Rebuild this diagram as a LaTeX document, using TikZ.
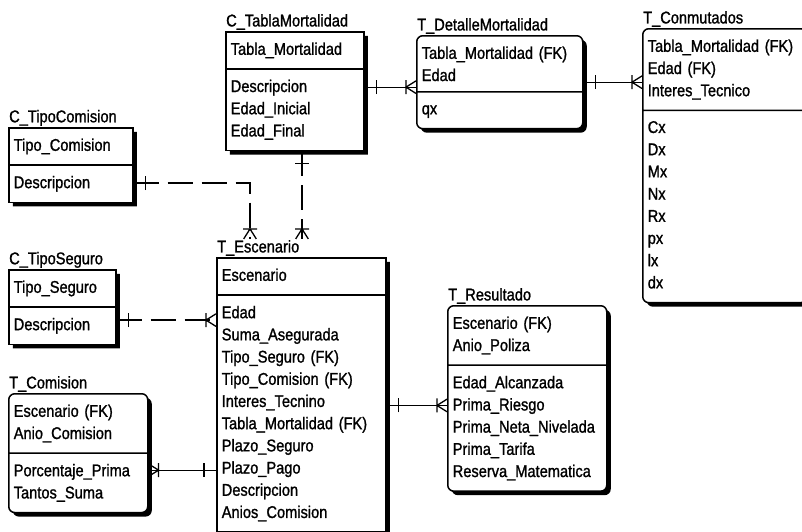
\documentclass[tikz,border=0pt]{standalone}
\usepackage{fontspec}
\setmainfont{Liberation Sans}[FakeStretch=0.86, FakeBold=1.2]
\usetikzlibrary{arrows.meta,shapes.multipart,shadows}

% relation ends: single bar (one) and crow's foot with bar (one or many)
\pgfdeclarearrow{
  name = One,
  parameters = {\the\pgfarrowlength,\the\pgfarrowwidth},
  setup code = {
    \pgfarrowssettipend{0pt}
    \pgfarrowssetlineend{0pt}
    \pgfarrowssetbackend{-\pgfarrowlength}
    \pgfarrowsupperhullpoint{0pt}{0pt}
    \pgfarrowsupperhullpoint{-\pgfarrowlength}{.5\pgfarrowwidth}
    \pgfarrowssavethe\pgfarrowlength
    \pgfarrowssavethe\pgfarrowwidth
  },
  drawing code = {
    \pgfpathmoveto{\pgfpoint{-\pgfarrowlength}{.5\pgfarrowwidth}}
    \pgfpathlineto{\pgfpoint{-\pgfarrowlength}{-.5\pgfarrowwidth}}
    \pgfusepathqstroke
  },
  defaults = {length = 12pt, width = 14pt}
}
\pgfdeclarearrow{
  name = Many,
  parameters = {\the\pgfarrowlength,\the\pgfarrowwidth},
  setup code = {
    \pgfarrowssettipend{0pt}
    \pgfarrowssetlineend{0pt}
    \pgfarrowssetbackend{-\pgfarrowlength}
    \pgfarrowsupperhullpoint{0pt}{.5\pgfarrowwidth}
    \pgfarrowsupperhullpoint{-\pgfarrowlength}{.5\pgfarrowwidth}
    \pgfarrowssavethe\pgfarrowlength
    \pgfarrowssavethe\pgfarrowwidth
  },
  drawing code = {
    \pgfpathmoveto{\pgfpoint{0pt}{.45\pgfarrowwidth}}
    \pgfpathlineto{\pgfpoint{-\pgfarrowlength}{0pt}}
    \pgfpathlineto{\pgfpoint{0pt}{-.45\pgfarrowwidth}}
    \pgfpathmoveto{\pgfpoint{-\pgfarrowlength}{.5\pgfarrowwidth}}
    \pgfpathlineto{\pgfpoint{-\pgfarrowlength}{-.5\pgfarrowwidth}}
    \pgfusepathqstroke
  },
  defaults = {length = 10pt, width = 14pt}
}

\tikzset{
  ent/.style={rectangle split, rectangle split parts=2, draw, line width=1.5pt,
    fill=white, align=left, inner xsep=5pt, inner ysep=10pt, anchor=north west,
    general shadow={fill=black, shadow xshift=4pt, shadow yshift=-4pt}},
  dep/.style={ent, rounded corners=6pt},
  entname/.style={anchor=south west, inner sep=1pt},
  rel/.style={line width=1.3pt},
  nonid/.style={rel, dash pattern=on 25pt off 9pt},
}

\begin{document}
\begin{tikzpicture}[x=1pt, y=-1pt, font=\fontsize{17}{22.2}\selectfont]
\useasboundingbox (0,0) rectangle (802,531);

% catalogues
\node[ent, text width=128pt] (cTabla) at (225,31) {Tabla\_Mortalidad
  \nodepart{two} Descripcion\\ Edad\_Inicial\\ Edad\_Final};
\node[entname] (cTablaT) at (cTabla.north west) {C\_TablaMortalidad};

\node[ent, text width=114pt] (cTipoCom) at (8,127) {Tipo\_Comision
  \nodepart{two} Descripcion};
\node[entname] (cTipoComT) at (cTipoCom.north west) {C\_TipoComision};

\node[ent, text width=97pt] (cTipoSeg) at (8,269) {Tipo\_Seguro
  \nodepart{two} Descripcion};
\node[entname] (cTipoSegT) at (cTipoSeg.north west) {C\_TipoSeguro};

% tables
\node[dep, text width=156pt] (tDetalle) at (416,35) {Tabla\_Mortalidad (FK)\\ Edad
  \nodepart{two} qx\vphantom{Ap}};
\node[entname] (tDetalleT) at (tDetalle.north west) {T\_DetalleMortalidad};

\node[dep, text width=154pt] (tConm) at (642,28) {Tabla\_Mortalidad (FK)\\ Edad (FK)\\ Interes\_Tecnico
  \nodepart{two} Cx\\ Dx\\ Mx\\ Nx\\ Rx\\ px\\ lx\\ dx\vphantom{p}};
\node[entname] (tConmT) at (tConm.north west) {T\_Conmutados};

\node[ent, text width=159pt] (tEsc) at (216,257) {Escenario\vphantom{p}
  \nodepart{two} Edad\\ Suma\_Asegurada\\ Tipo\_Seguro (FK)\\ Tipo\_Comision (FK)\\
  Interes\_Tecnino\\ Tabla\_Mortalidad (FK)\\ Plazo\_Seguro\\ Plazo\_Pago\\
  Descripcion\\ Anios\_Comision};
\node[entname] (tEscT) at (tEsc.north west) {T\_Escenario};

\node[dep, text width=149pt] (tRes) at (447,305) {Escenario (FK)\\ Anio\_Poliza
  \nodepart{two} Edad\_Alcanzada\\ Prima\_Riesgo\\ Prima\_Neta\_Nivelada\\
  Prima\_Tarifa\\ Reserva\_Matematica};
\node[entname] (tResT) at (tRes.north west) {T\_Resultado};

\node[dep, text width=129pt] (tCom) at (8,393) {Escenario (FK)\\ Anio\_Comision
  \nodepart{two} Porcentaje\_Prima\\ Tantos\_Suma};
\node[entname] (tComT) at (tCom.north west) {T\_Comision};

% relations
\coordinate (comEnd) at ([xshift=34pt]tEscT.north west);
\coordinate (tabEnd) at ([xshift=86pt]tEscT.north west);

\draw[rel, {One}-{Many}] ([yshift=4pt]cTabla.east) -- ([yshift=4pt]cTabla.east -| tDetalle.west);
\draw[rel, {One}-{Many}] (tDetalle.east) -- (tDetalle.east -| tConm.west);
\draw[nonid, {One}-{Many}] (cTabla.south -| tabEnd) -- (tabEnd);
\draw[nonid, {One}-{Many}] ([yshift=-18pt]cTipoCom.east) -| (comEnd);
\draw[nonid, {One}-{Many}] ([yshift=-13pt]cTipoSeg.east) -- ([yshift=-13pt]cTipoSeg.east -| tEsc.west);
\draw[rel, {One}-{Many}] ([yshift=-17pt]tCom.east -| tEsc.west) -- ([yshift=-17pt]tCom.east);
\draw[rel, {One}-{Many}] ([yshift=-7pt]tRes.west -| tEsc.east) -- ([yshift=-7pt]tRes.west);

\end{tikzpicture}
\end{document}
